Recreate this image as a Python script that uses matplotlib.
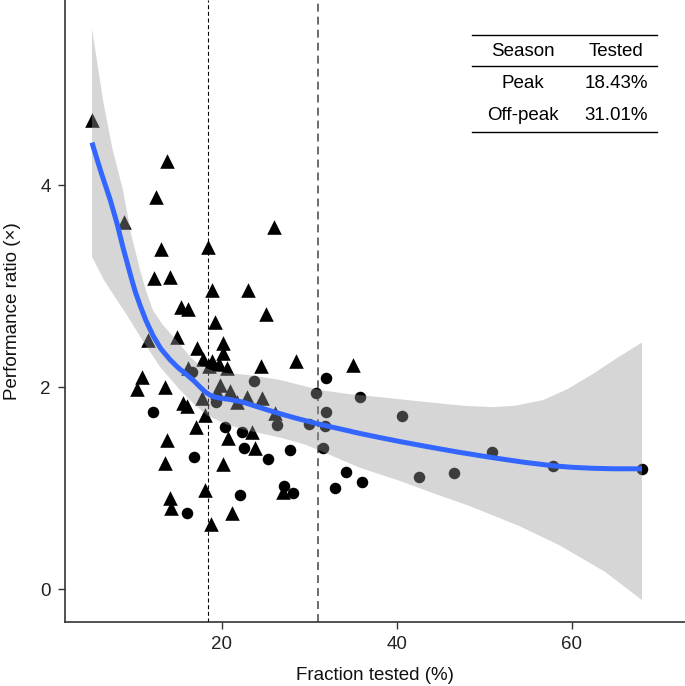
import numpy as np
import matplotlib
matplotlib.use("Agg")
import matplotlib.pyplot as plt

plt.rcParams['font.family'] = ['Liberation Sans', 'DejaVu Sans']

# peak-season points (triangles)
peak_x = [5.14, 13.71, 12.46, 8.80, 13.03, 18.40, 25.94, 12.23, 14.06, 18.86,
          22.97, 15.31, 16.11, 25.03, 19.20, 11.54, 14.86, 17.14, 20.11, 20.11,
          17.83, 18.86, 19.66, 20.57, 16.11, 24.46, 28.46, 34.97, 10.86, 10.29,
          13.49, 15.54, 16.00, 17.71, 18.06, 17.03, 19.77, 20.91, 19.43, 21.71,
          22.86, 24.57, 26.06, 23.43, 20.69, 13.71, 23.77, 13.49, 20.11, 18.06,
          26.97, 14.06, 14.17, 21.14, 18.74, 18.51]
peak_y = [4.64, 4.24, 3.88, 3.63, 3.37, 3.39, 3.58, 3.08, 3.09, 2.96,
          2.96, 2.79, 2.77, 2.72, 2.64, 2.47, 2.50, 2.39, 2.44, 2.34,
          2.28, 2.26, 2.23, 2.19, 2.19, 2.21, 2.26, 2.22, 2.10, 1.98,
          2.00, 1.84, 1.81, 1.89, 1.72, 1.60, 2.02, 1.96, 1.95, 1.85,
          1.90, 1.89, 1.74, 1.55, 1.50, 1.48, 1.40, 1.25, 1.24, 0.98,
          0.96, 0.90, 0.80, 0.75, 0.64, 2.21]

# off-peak points (circles)
off_x = [12.11, 16.57, 23.66, 19.31, 20.34, 22.29, 22.51, 26.29, 27.77, 29.94,
         30.74, 16.80, 25.26, 16.00, 22.06, 27.09, 28.11, 31.89, 35.77, 40.57,
         31.89, 31.77, 31.54, 34.17, 36.00, 32.91, 42.51, 46.51, 50.86, 57.83,
         68.00]
off_y = [1.75, 2.15, 2.06, 1.85, 1.60, 1.55, 1.40, 1.62, 1.38, 1.63,
         1.94, 1.31, 1.29, 0.75, 0.93, 1.02, 0.95, 2.09, 1.90, 1.71,
         1.75, 1.61, 1.40, 1.16, 1.06, 1.00, 1.11, 1.15, 1.36, 1.22,
         1.19]

# smooth fit and its confidence band
fit_x = [5.14, 5.7, 6.2, 6.7, 7.2, 7.6, 8.0, 8.69, 9.6, 10.1, 10.63, 11.3, 12.11,
         13.0, 14.06, 15.0, 16.0, 16.8, 17.49, 18.1, 18.63, 19.2, 19.77, 21.0,
         22.4, 24.2, 26.06, 28.5, 31.2, 33.5, 35.77, 38.0, 40.34, 43.43, 47.0,
         50.97, 54.5, 57.83, 60.0, 62.4, 65.0, 68.0]
fit_y = [4.42, 4.26, 4.12, 3.99, 3.86, 3.74, 3.62, 3.38, 3.09, 2.94, 2.81, 2.66, 2.51,
         2.38, 2.27, 2.19, 2.12, 2.06, 2.00, 1.95, 1.92, 1.90, 1.89, 1.875,
         1.85, 1.80, 1.75, 1.69, 1.63, 1.585, 1.54, 1.50, 1.46, 1.41, 1.355,
         1.30, 1.255, 1.22, 1.205, 1.195, 1.19, 1.19]

upper_x = [5.14, 5.8, 6.4, 7.5, 8.69, 9.6, 10.63, 11.4, 12.11, 13.2, 14.4, 15.4,
           16.34, 17.49, 19.0, 20.5, 22.86, 26.63, 31.2, 34.5, 38.06, 43.43,
           47.5, 50.97, 53.5, 56.69, 59.5, 62.4, 65.2, 68.0]
upper_y = [5.55, 5.18, 4.84, 4.35, 3.95, 3.52, 3.16, 2.93, 2.76, 2.62, 2.50, 2.40,
           2.30, 2.21, 2.16, 2.14, 2.12, 2.07, 1.97, 1.93, 1.90, 1.85,
           1.815, 1.80, 1.815, 1.87, 1.98, 2.13, 2.29, 2.44]
lower_x = [5.14, 5.14, 6.5, 8.0, 9.14, 10.86, 12.91, 15.2, 16.8, 18.29, 20.5,
           22.86, 26.63, 29.5, 32.0, 35.77, 40.34, 43.77, 48.34, 54.06, 58.63,
           63.77, 68.0]
lower_y = [3.29, 3.29, 3.06, 2.86, 2.71, 2.47, 2.20, 1.97, 1.83, 1.72, 1.63,
           1.57, 1.50, 1.43, 1.34, 1.20, 1.07, 0.96, 0.82, 0.62, 0.43,
           0.17, -0.11]

peak_cut = 18.43
off_cut = 31.01

table_rows = [("Season", "Tested"), ("Peak", "18.43%"), ("Off-peak", "31.01%")]

W, H = 685, 686
fig = plt.figure(figsize=(W / 100, H / 100), dpi=100)
ax = fig.add_axes([64.6 / W, (H - 622) / H, 1 - 64.6 / W, 622 / H])

ax.axvline(peak_cut, color='black', lw=0.8, dashes=(3.6, 2.4), zorder=1)
ax.axvline(off_cut, color='#444444', lw=1.1, dashes=(5.2, 3.3), zorder=1)

ax.scatter(peak_x, peak_y, marker='^', s=10.5 ** 2, color='black', linewidths=0, zorder=2)
ax.scatter(off_x, off_y, marker='o', s=8.3 ** 2, color='black', linewidths=0, zorder=2)

ax.fill(np.concatenate([upper_x, lower_x[::-1]]), np.concatenate([upper_y, lower_y[::-1]]),
        color='#999999', alpha=0.4, lw=0, zorder=3)
ax.plot(fit_x, fit_y, color='#3366FF', lw=3.6, solid_capstyle='butt', zorder=4)

ax.set_xlim((64.6 - 47) / 8.75, (685 - 47) / 8.75)
ax.set_ylim((589 - 622) / 101, 589 / 101)
ax.set_xticks([20, 40, 60])
ax.set_yticks([0, 2, 4])

for s in ['top', 'right']:
    ax.spines[s].set_visible(False)
for s in ['left', 'bottom']:
    ax.spines[s].set_color('#333333')
    ax.spines[s].set_linewidth(1.2)
ax.tick_params(length=5, width=1, color='#333333', labelsize=13.5, labelcolor='#222222', pad=5)

ax.set_xlabel('Fraction tested (%)', fontsize=13.5, color='#111111', labelpad=10)
ax.set_ylabel('Performance ratio (×)', fontsize=13.5, color='#111111', labelpad=14)

# small summary table, top right
def fx(px):
    return px / W

def fy(py):
    return 1 - py / H

for yy in [35, 66, 132]:
    fig.add_artist(plt.Line2D([fx(472), fx(657)], [fy(yy), fy(yy)], color='black', lw=1))
for (a, b), yy in zip(table_rows, [52, 83, 116]):
    fig.text(fx(523), fy(yy), a, ha='center', va='center', fontsize=13.5)
    fig.text(fx(616), fy(yy), b, ha='center', va='center', fontsize=13.5)

fig.savefig('out.png', dpi=100)
